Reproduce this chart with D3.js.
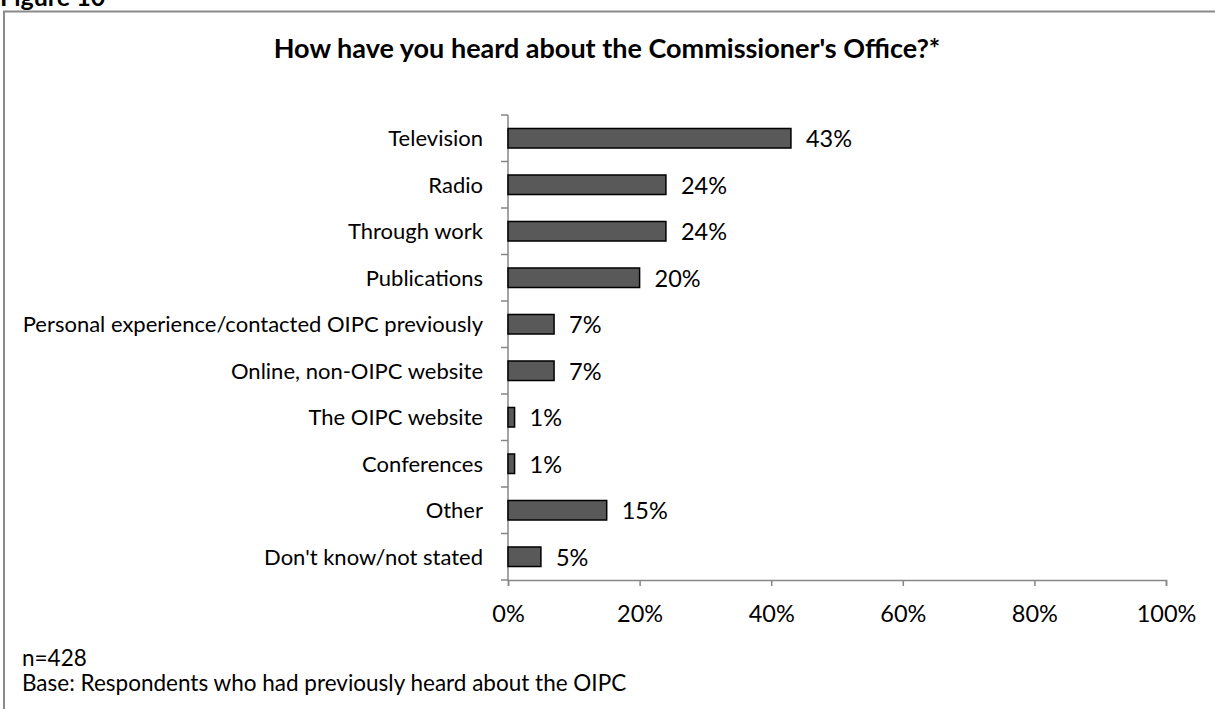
<!DOCTYPE html>
<html>
<head>
<meta charset="utf-8">
<script src="https://cdn.jsdelivr.net/npm/d3@7/dist/d3.min.js"></script>
<style>
  html, body { margin: 0; padding: 0; background: #fff; }
  svg { display: block; font-family: Lato, "Open Sans", sans-serif; }
</style>
</head>
<body>
<svg id="chart" width="1215" height="709"></svg>
<script>
// Survey answers: how respondents heard about the Commissioner's Office (percent)
const categories = [
  "Television",
  "Radio",
  "Through work",
  "Publications",
  "Personal experience/contacted OIPC previously",
  "Online, non-OIPC website",
  "The OIPC website",
  "Conferences",
  "Other",
  "Don't know/not stated"
];
const values = [43, 24, 24, 20, 7, 7, 1, 1, 15, 5];
const xTicks = [0, 20, 40, 60, 80, 100];

const figureLabel = "Figure 10";
const title = "How have you heard about the Commissioner's Office?*";
const notes = ["n=428", "Base: Respondents who had previously heard about the OIPC"];

const svg = d3.select("#chart");
const axisColor = "#868686";

// Frame around the figure (open to the right and bottom)
svg.append("rect")
  .attr("x", 4).attr("y", 11.5)
  .attr("width", 1400).attr("height", 900)
  .attr("fill", "none")
  .attr("stroke", "#8a8a8a")
  .attr("stroke-width", 2);

svg.append("text")
  .attr("x", 0).attr("y", 6)
  .attr("font-weight", "bold")
  .attr("font-size", 25)
  .text(figureLabel);

svg.append("text")
  .attr("x", 607).attr("y", 58)
  .attr("text-anchor", "middle")
  .attr("font-weight", "bold")
  .attr("font-size", 27)
  .text(title);

const x = d3.scaleLinear().domain([0, 100]).range([508, 1166]);
const y = d3.scaleBand().domain(categories).range([115, 580])
  .paddingInner(0.58).paddingOuter(0.29);

// Horizontal value axis
const xAxis = svg.append("g")
  .attr("transform", "translate(0,580)")
  .call(d3.axisBottom(x).tickValues(xTicks).tickSize(6).tickFormat(d => d + "%"));
xAxis.select(".domain").attr("stroke", axisColor).attr("stroke-width", 1.5);
xAxis.selectAll(".tick line").attr("stroke", axisColor).attr("stroke-width", 1.5);
xAxis.selectAll(".tick text")
  .attr("y", 42).attr("dy", 0)
  .attr("font-size", 23.5)
  .attr("font-family", "Lato, sans-serif")
  .attr("fill", "#000");

// Category axis: line plus tick marks between categories
const [y0, y1] = y.range();
const boundaries = d3.range(categories.length + 1).map(i => y0 + i * y.step());
const yAxis = svg.append("g");
yAxis.append("line")
  .attr("x1", x(0)).attr("x2", x(0))
  .attr("y1", y0).attr("y2", y1)
  .attr("stroke", axisColor).attr("stroke-width", 1.5);
yAxis.selectAll("line.tick")
  .data(boundaries)
  .join("line")
  .attr("class", "tick")
  .attr("x1", x(0) - 7).attr("x2", x(0))
  .attr("y1", d => d).attr("y2", d => d)
  .attr("stroke", axisColor).attr("stroke-width", 1.5);

svg.append("g")
  .selectAll("text")
  .data(categories)
  .join("text")
  .attr("x", x(0) - 25)
  .attr("y", d => y(d) + y.bandwidth() / 2)
  .attr("dy", "0.36em")
  .attr("text-anchor", "end")
  .attr("font-size", 22)
  .text(d => d);

// Bars
const rows = categories.map((c, i) => ({ c, v: values[i] }));
svg.append("g")
  .selectAll("rect")
  .data(rows)
  .join("rect")
  .attr("x", x(0))
  .attr("y", d => y(d.c))
  .attr("width", d => x(d.v) - x(0))
  .attr("height", y.bandwidth())
  .attr("fill", "#595959")
  .attr("stroke", "#000")
  .attr("stroke-width", 1.5);

// Value labels
svg.append("g")
  .selectAll("text")
  .data(rows)
  .join("text")
  .attr("x", d => x(d.v) + 15)
  .attr("y", d => y(d.c) + y.bandwidth() / 2)
  .attr("dy", "0.38em")
  .attr("font-size", 23.5)
  .text(d => d.v + "%");

// Footnotes
svg.append("g")
  .selectAll("text")
  .data(notes)
  .join("text")
  .attr("x", 22)
  .attr("y", (d, i) => 666 + i * 25)
  .attr("font-size", 22.5)
  .text(d => d);
</script>
</body>
</html>
